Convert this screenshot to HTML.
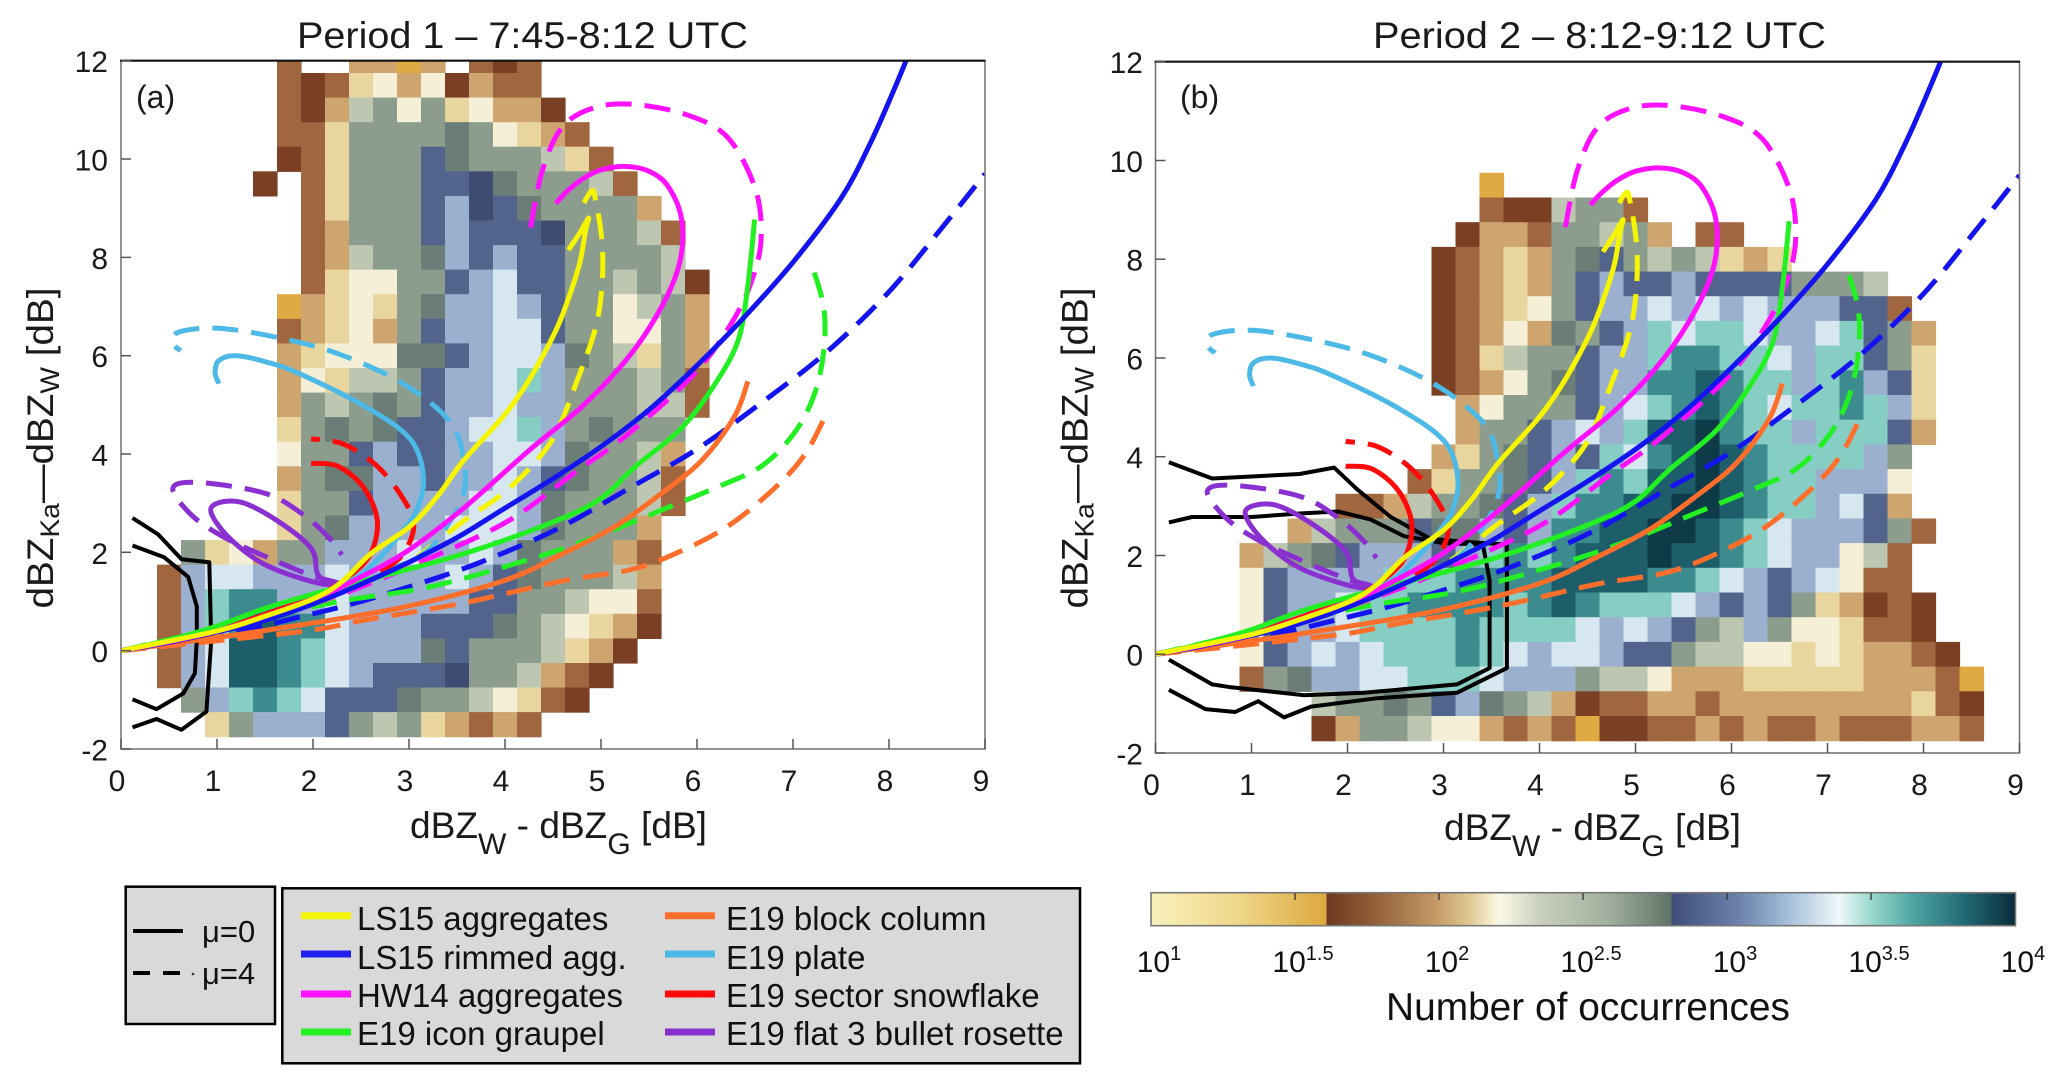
<!DOCTYPE html>
<html><head><meta charset="utf-8">
<style>
html,body{margin:0;padding:0;background:#fff;}
svg{display:block;font-family:"Liberation Sans",Arial,sans-serif;}
</style></head>
<body>
<svg id="s" width="2067" height="1083" viewBox="0 0 2067 1083" xmlns="http://www.w3.org/2000/svg">
<defs id="defs">
<linearGradient id="cbar" x1="0" y1="0" x2="1" y2="0">
<stop offset="0" stop-color="#f8f1bb"/>
<stop offset="0.1" stop-color="#efd78a"/>
<stop offset="0.2025" stop-color="#dca93f"/>
<stop offset="0.2035" stop-color="#6c3820"/>
<stop offset="0.26" stop-color="#93603a"/>
<stop offset="0.33" stop-color="#c49a66"/>
<stop offset="0.37" stop-color="#e2cb94"/>
<stop offset="0.403" stop-color="#fbf9e6"/>
<stop offset="0.45" stop-color="#c8d0bc"/>
<stop offset="0.53" stop-color="#a1af9e"/>
<stop offset="0.6015" stop-color="#5e7366"/>
<stop offset="0.6025" stop-color="#3f4d78"/>
<stop offset="0.68" stop-color="#6b82ab"/>
<stop offset="0.74" stop-color="#a9c2dc"/>
<stop offset="0.796" stop-color="#eff8fa"/>
<stop offset="0.83" stop-color="#9fdcd0"/>
<stop offset="0.88" stop-color="#4fa6a4"/>
<stop offset="0.94" stop-color="#226b76"/>
<stop offset="1" stop-color="#0b2b3a"/>
</linearGradient>
</defs>

<g id="pa"></g>
<g id="pb"></g>

<!-- axes boxes -->
<rect x="121" y="60.7" width="864" height="688.3" fill="none" stroke="#777" stroke-width="1.6"/>
<line x1="120" y1="60.7" x2="985.5" y2="60.7" stroke="#111" stroke-width="2.2"/>
<rect x="1155.5" y="61.7" width="864" height="691.3" fill="none" stroke="#777" stroke-width="1.6"/>
<line x1="1154.5" y1="61.7" x2="2020" y2="61.7" stroke="#111" stroke-width="2.2"/>
<g id="ticks" stroke="#555" stroke-width="1.5"></g>

<g fill="#1a1a1a">
<text x="297" y="48" font-size="37" textLength="451" lengthAdjust="spacingAndGlyphs">Period 1 – 7:45-8:12 UTC</text>
<text x="1373" y="48" font-size="37" textLength="453" lengthAdjust="spacingAndGlyphs">Period 2 – 8:12-9:12 UTC</text>
<text x="136" y="108" font-size="32">(a)</text>
<text x="1180" y="108" font-size="32">(b)</text>

<g font-size="30" text-anchor="end">
<text x="108" y="72.2">12</text><text x="108" y="170.5">10</text><text x="108" y="268.9">8</text><text x="108" y="367.2">6</text>
<text x="108" y="465.5">4</text><text x="108" y="563.8">2</text><text x="108" y="662.2">0</text><text x="108" y="760.5">-2</text>
<text x="1143" y="73.2">12</text><text x="1143" y="172">10</text><text x="1143" y="270.7">8</text><text x="1143" y="369.5">6</text>
<text x="1143" y="468.2">4</text><text x="1143" y="567">2</text><text x="1143" y="665.7">0</text><text x="1143" y="764.5">-2</text>
</g>
<g font-size="30" text-anchor="middle">
<text x="117" y="791">0</text><text x="213" y="791">1</text><text x="309" y="791">2</text><text x="405" y="791">3</text><text x="501" y="791">4</text>
<text x="597" y="791">5</text><text x="693" y="791">6</text><text x="789" y="791">7</text><text x="885" y="791">8</text><text x="981" y="791">9</text>
<text x="1151.5" y="795">0</text><text x="1247.5" y="795">1</text><text x="1343.5" y="795">2</text><text x="1439.5" y="795">3</text><text x="1535.5" y="795">4</text>
<text x="1631.5" y="795">5</text><text x="1727.5" y="795">6</text><text x="1823.5" y="795">7</text><text x="1919.5" y="795">8</text><text x="2015.5" y="795">9</text>
</g>

<text x="410" y="838" font-size="37" textLength="297" lengthAdjust="spacingAndGlyphs">dBZ<tspan font-size="30" dy="16">W</tspan><tspan dy="-16"> - dBZ</tspan><tspan font-size="30" dy="16">G</tspan><tspan dy="-16"> [dB]</tspan></text>
<text x="1444" y="840" font-size="37" textLength="297" lengthAdjust="spacingAndGlyphs">dBZ<tspan font-size="30" dy="16">W</tspan><tspan dy="-16"> - dBZ</tspan><tspan font-size="30" dy="16">G</tspan><tspan dy="-16"> [dB]</tspan></text>

<text transform="translate(53,448) rotate(-90)" text-anchor="middle" font-size="37" textLength="321" lengthAdjust="spacingAndGlyphs">dBZ<tspan font-size="27" dy="6">Ka</tspan><tspan dy="-6">—dBZ</tspan><tspan font-size="27" dy="6">W</tspan><tspan dy="-6"> [dB]</tspan></text>
<text transform="translate(1087.5,448) rotate(-90)" text-anchor="middle" font-size="37" textLength="321" lengthAdjust="spacingAndGlyphs">dBZ<tspan font-size="27" dy="6">Ka</tspan><tspan dy="-6">—dBZ</tspan><tspan font-size="27" dy="6">W</tspan><tspan dy="-6"> [dB]</tspan></text>
</g>

<rect x="125.7" y="886.7" width="149.3" height="137.3" fill="#d9d9d9" stroke="#000" stroke-width="2.5"/>
<line x1="133" y1="931" x2="183" y2="931" stroke="#000" stroke-width="4"/>
<line x1="133" y1="973" x2="150" y2="973" stroke="#000" stroke-width="4"/>
<line x1="163" y1="973" x2="180" y2="973" stroke="#000" stroke-width="4"/>
<circle cx="193" cy="974" r="1.3" fill="#333"/>
<g fill="#111" font-size="31">
<text x="202" y="942">μ=0</text>
<text x="202" y="984">μ=4</text>
</g>

<rect x="282.3" y="888.3" width="797.7" height="175" fill="#d9d9d9" stroke="#000" stroke-width="2.5"/>
<g stroke-width="7">
<line x1="301" y1="915.7" x2="351" y2="915.7" stroke="#f5f500"/>
<line x1="301" y1="954" x2="351" y2="954" stroke="#2020f0"/>
<line x1="301" y1="994" x2="351" y2="994" stroke="#ff10ff"/>
<line x1="301" y1="1032" x2="351" y2="1032" stroke="#22f022"/>
<line x1="665" y1="915.7" x2="715" y2="915.7" stroke="#ff6e2a"/>
<line x1="665" y1="954" x2="715" y2="954" stroke="#4cb9e6"/>
<line x1="665" y1="994" x2="715" y2="994" stroke="#ff0a0a"/>
<line x1="665" y1="1032" x2="715" y2="1032" stroke="#8a30d0"/>
</g>
<g fill="#111" font-size="33">
<text x="357" y="930">LS15 aggregates</text>
<text x="357" y="969">LS15 rimmed agg.</text>
<text x="357" y="1007">HW14 aggregates</text>
<text x="357" y="1045">E19 icon graupel</text>
<text x="726" y="930">E19 block column</text>
<text x="726" y="969">E19 plate</text>
<text x="726" y="1007">E19 sector snowflake</text>
<text x="726" y="1045">E19 flat 3 bullet rosette</text>
</g>

<rect x="1151" y="892.7" width="864.5" height="33" fill="url(#cbar)" stroke="#777" stroke-width="1.6"/>
<g stroke="#333" stroke-width="1.3">
<line x1="1295" y1="893" x2="1295" y2="900"/><line x1="1439" y1="893" x2="1439" y2="900"/>
<line x1="1583" y1="893" x2="1583" y2="900"/><line x1="1727" y1="893" x2="1727" y2="900"/>
<line x1="1871" y1="893" x2="1871" y2="900"/>
</g>
<g fill="#111" font-size="30" text-anchor="middle">
<text x="1159" y="972">10<tspan font-size="20" dy="-12">1</tspan></text>
<text x="1303" y="972">10<tspan font-size="20" dy="-12">1.5</tspan></text>
<text x="1447" y="972">10<tspan font-size="20" dy="-12">2</tspan></text>
<text x="1591" y="972">10<tspan font-size="20" dy="-12">2.5</tspan></text>
<text x="1735" y="972">10<tspan font-size="20" dy="-12">3</tspan></text>
<text x="1879" y="972">10<tspan font-size="20" dy="-12">3.5</tspan></text>
<text x="2023" y="972">10<tspan font-size="20" dy="-12">4</tspan></text>
</g>
<text x="1588" y="1020" font-size="39" fill="#111" text-anchor="middle" textLength="404" lengthAdjust="spacingAndGlyphs">Number of occurrences</text>
</svg>

<script>
(function(){
const NS="http://www.w3.org/2000/svg";
const COL={W:'#f4efd6',Y:'#e9d69e',T:'#cfa56f',B:'#9f663f',D:'#7b4024',G:'#e0aa42',S:'#bcc6b0',M:'#8c9d8e',K:'#6a7d77',N:'#52638c',Q:'#3f4c72',L:'#9bb0cf',P:'#d6e7ef',C:'#86cec3',E:'#3c8b8e',F:'#1e5d6a',X:'#0f3b49'};
function mk(tag,a,p){const e=document.createElementNS(NS,tag);for(const k in a)e.setAttribute(k,a[k]);p.appendChild(e);return e;}
function f(v){return v.toFixed(1);}
function crPath(pts,X,Y){
  const P=pts.map(p=>[X(p[0]),Y(p[1])]);
  let d='M'+f(P[0][0])+','+f(P[0][1]);
  for(let i=0;i<P.length-1;i++){
    const p0=P[i-1]||P[i],p1=P[i],p2=P[i+1],p3=P[i+2]||P[i+1];
    const c1=[p1[0]+(p2[0]-p0[0])/6,p1[1]+(p2[1]-p0[1])/6];
    const c2=[p2[0]-(p3[0]-p1[0])/6,p2[1]-(p3[1]-p1[1])/6];
    d+='C'+f(c1[0])+','+f(c1[1])+' '+f(c2[0])+','+f(c2[1])+' '+f(p2[0])+','+f(p2[1]);
  }
  return d;
}
function polyPath(pts,X,Y){return 'M'+pts.map(p=>f(X(p[0]))+','+f(Y(p[1]))).join('L');}

const A=[
[12,5,"B..TTGT.BDB"],
[11.5,5,"BDBYWTWDTBB"],
[11,5,"BDTSMWMYWTTD"],
[10.5,5,"BBYMMMMKMWYTB"],
[10,5,"DBYMMMNKMMMSYB"],
[9.5,4,"D.BYMMMNNQKMMMSB"],
[9,6,"BYMMMNLQNKMMMMT"],
[8.5,6,"BTMMMNLNNNQMMMSB"],
[8,6,"BTSMMKLNLNNMMMMS"],
[7.5,6,"BYWWMMNLPNNMMSMSD"],
[7,5,"GTYWYMKLLPLNMMWSMT"],
[6.5,5,"BTYWTMNLLPPNMMWWMT"],
[6,5,"TYWWWKKNLPPLKMSYMT"],
[5.5,5,"TWYSSMNLLPCLMMMSMB"],
[5,5,"TMSMKMNLLPLLMMMSSB"],
[4.5,5,"YMKMKNNLPPCLMKMMM"],
[4,5,"WMMNLNNLLPPLKMMST"],
[3.5,5,"TMKKLLNLLPLNKMMSB"],
[3,5,"YMMNLLLLPPLKMMMSB"],
[2.5,5,"YMKLLLLPPPLKMMMT"],
[2,1,"MYWTMMLLLPLLPLKMMMTB"],
[1.5,0,"BLPPLLLPLLLLPLNKMMMST"],
[1,0,"BLCEELLPLLLLLNNMMSWWB"],
[0.5,0,"BLCEFEEPLLLNNNKMSWYTD"],
[0,0,"BLPFFECPLLLKNMMMSYTD"],
[-0.5,0,"BLPFFECPLNNNQMMSTBD"],
[-1,1,"MLCECPNNNKMMSWYBD"],
[-1.5,2,"YMLLLNMSMYTBTB"]
];
const B=[
[9.5,12,"G"],
[9,12,"BDDSMMB"],
[8.5,11,"DTTBMMSMT.BB"],
[8,10,"DBTYTMKNMSMSYTY"],
[7.5,10,"DBTYTMNLNNLNNNNMMMS"],
[7,10,"DBTYWMNLLPLPLPLLLNNB"],
[6.5,10,"DBTWTKMNLCPCCPLLPCNMT"],
[6,10,"DBYSMMNLLCEECCPLCCNMY"],
[5.5,10,"DBTWMKNLLEEFECCLCELNY"],
[5,11,"TWMMMNLPCEFECPCCECLY"],
[4.5,11,"TMMNLPLCFFXECCLCCCNT"],
[4,10,"TYMKNLNCPEFXFECCCCLM"],
[3.5,9,"BYMMKNLCECFFXFECCLLLW"],
[3,6,"BBTSMMKNLCEEFFXXFECCLPNT"],
[2.5,4,"TSMMMNKKLNLEEFFXXFECPLLLNMB"],
[2,2,"TSMKNLLLNLCECEFFFXFFECPLLWSB"],
[1.5,2,"WNLLLLCCCEEEEFFFFEECPLNLPWBB"],
[1,2,"WNLLPCCEEEECEFECCCPLNLNMYTDBD"],
[0.5,2,"WNLLPCCCCECCCCPLPLNMSLMWWYBBD"],
[0,2,"WNLPLPCCCECPLPPLNNMSSWWYWYTTBD"],
[-0.5,2,"BMKLLPPCCCPLLLMSSWTTTYYYYYTTTBG"],
[-1,5,"SMMKMNLKMSTDBBTTBTTTTTTTTYBD"],
[-1.5,5,"DTMMSWWTBTBGDDBBTBTBBTBBBTTB"]
];

const cA=[
[[0.12,2.7],[0.39,2.36],[0.63,1.86],[0.92,1.8],[0.94,0.2],[0.89,-1.24],[0.63,-1.61],[0.37,-1.39],[0.12,-1.56]],
[[0.12,2.14],[0.45,1.9],[0.7,1.5],[0.79,0.9],[0.79,0.22],[0.77,-0.46],[0.65,-0.87],[0.37,-1.19],[0.12,-0.99]]
];
const cB=[
[[0.14,3.89],[0.59,3.56],[1.0,3.6],[1.5,3.65],[1.86,3.78],[2.1,3.34],[2.45,2.78],[2.86,2.34],[3.21,2.28],[3.66,2.22],[3.66,-0.28],[3.14,-0.78],[2.31,-0.89],[1.62,-1.06],[1.34,-1.28],[1.07,-0.95],[0.83,-1.17],[0.52,-1.11],[0.14,-0.72]],
[[0.14,2.67],[0.38,2.78],[1.0,2.78],[1.5,2.85],[1.9,2.89],[2.24,2.73],[2.59,2.39],[3.0,2.25],[3.41,2.22],[3.48,1.5],[3.48,-0.28],[3.14,-0.61],[2.17,-0.78],[1.55,-0.83],[0.79,-0.67],[0.59,-0.61],[0.14,-0.11]]
];

const YEL='#f5f500',BLU='#1414f0',MAG='#ff10ff',GRN='#22f022',ORA='#ff6e2a',CYA='#4cb9e6',RED='#ff0a0a',PUR='#8a30d0';
const curves=[
[[[0,0],[1,0.3],[2,0.75],[2.5,1.0],[3,1.3],[3.5,1.62],[4,2.0],[4.6,2.53],[5.3,3.31],[6,4.1],[6.67,5.04],[7.36,6.09],[8,7.3],[8.53,8.55],[9,9.7]],BLU,1],
[[[0,0],[1,0.2],[2,0.42],[2.53,0.62],[3.57,0.97],[4.6,1.42],[5.29,1.64],[5.77,1.97],[6.32,2.53],[6.81,3.31],[7.12,3.98],[7.32,4.7]],ORA,1],
[[[0,0],[1,0.45],[2.19,0.97],[3.22,1.3],[4.26,1.86],[4.94,2.31],[5.63,2.86],[6.19,3.31],[6.67,3.75],[7.01,4.42],[7.22,5.2],[7.32,6.09],[7.32,6.99],[7.19,7.88]],GRN,1],
[[[0,0],[1,0.37],[2,0.95],[2.5,1.3],[3,1.7],[4,2.6],[4.74,3.64],[5.29,4.42],[5.98,5.65],[6.39,6.76],[6.6,7.7],[6.67,8.5],[6.6,9.44],[6.32,10.44],[5.91,10.89],[5.36,11.11],[4.94,11.05],[4.6,10.66],[4.39,9.77],[4.26,8.55]],MAG,1],
[[[0,0],[1,0.37],[2,0.95],[2.5,1.35],[3,1.8],[3.57,2.64],[3.98,3.2],[4.3,3.8],[4.53,4.42],[4.74,5.43],[4.94,6.54],[5.01,7.43],[5.01,8.32],[4.94,9.21],[4.9,9.35],[4.82,9.1]],YEL,1],
[[[0,0],[1,0.4],[2,1.05],[2.6,1.5],[3.15,1.97],[3.43,2.64],[3.57,3.2],[3.57,3.87],[3.43,4.65],[2.94,5.43],[2.26,6.04],[1.63,6.37],[1.01,6.56],[0.6,6.48],[0.54,6.26],[0.62,6.1]],CYA,1],
[[[0,0],[1,0.4],[2,1.0],[2.5,1.35],[2.74,1.64],[2.94,1.97],[3.05,2.53],[2.94,3.09],[2.67,3.75],[2.32,4.2],[1.98,4.31]],RED,1],
[[[0,0],[1,0.42],[1.8,0.95],[2.3,1.3],[1.98,1.53],[1.57,1.86],[1.08,2.3],[0.74,2.75],[0.54,3.3],[0.81,3.42],[1.5,3.2],[1.91,2.75],[2.19,2.25],[2.3,1.95]],PUR,1],
[[[0,0],[1,0.42],[1.8,0.95],[2.2,1.25],[2.05,1.55],[1.98,2.08],[1.63,2.64],[1.25,3.02],[0.98,2.98],[0.95,2.75],[1.15,2.25],[1.5,1.75],[1.98,1.41],[2.3,1.3]],PUR,0],
[[[0,0],[1,0.42],[1.8,0.95],[2.12,1.19],[2.39,1.53],[2.6,1.97],[2.67,2.64],[2.53,3.31],[2.26,3.75],[1.98,3.81]],RED,0],
[[[0,0],[1,0.4],[2,1.05],[2.46,1.5],[2.7,1.9],[2.88,2.31],[3.08,2.86],[3.15,3.53],[3.01,4.31],[2.53,4.98],[1.84,5.65],[1.5,5.88],[1.2,6.0],[1.02,5.9],[0.98,5.65],[1.02,5.43]],CYA,0],
[[[0,0],[1,0.27],[1.5,0.41],[2.88,0.86],[3.98,1.42],[4.6,1.97],[5.15,2.53],[5.63,3.2],[6.05,3.87],[6.39,4.76],[6.53,5.48]],ORA,0],
[[[0,0],[0.5,0.22],[1,0.5],[1.5,0.86],[2,1.15],[2.53,1.42],[3.57,1.97],[4.53,2.64],[5.0,3.1],[5.36,3.75],[5.84,4.53],[6.19,5.43],[6.43,6.32],[6.53,7.43],[6.6,8.77]],GRN,0],
[[[0,0],[0.5,0.17],[1,0.38],[1.5,0.62],[2,0.95],[2.5,1.35],[3,1.8],[3.5,2.3],[4,2.9],[4.5,3.5],[5,4.15],[5.5,4.9],[6,5.8],[6.5,6.8],[7,7.9],[7.5,9.2],[7.8,10.3],[8.05,11.4],[8.22,12.2]],BLU,0],
[[[0,0],[1,0.4],[2,1.05],[2.5,1.5],[3,2.05],[3.57,2.9],[4.26,4.09],[4.81,4.98],[5.29,5.98],[5.63,6.99],[5.82,7.9],[5.84,8.77],[5.7,9.44],[5.5,9.75],[5.25,9.85],[5.0,9.78],[4.81,9.6],[4.65,9.35],[4.53,9.1]],MAG,0],
[[[0,0],[1,0.4],[1.5,0.7],[2,1.05],[2.3,1.4],[2.6,1.97],[3.01,2.53],[3.3,3.15],[3.57,3.87],[3.98,4.76],[4.2,5.35],[4.39,5.98],[4.55,6.6],[4.67,7.21],[4.78,7.9],[4.84,8.55],[4.87,8.8],[4.78,8.5],[4.66,8.15]],YEL,0]
];

const panels=[
 {id:'pa',ox:121,top:60.7,bot:749,data:A,cont:cA},
 {id:'pb',ox:1155.5,top:61.7,bot:753,data:B,cont:cB}
];
const defs=document.getElementById('defs');
const tk=document.getElementById('ticks');
panels.forEach((P,pi)=>{
  const X=v=>P.ox+96*v;
  const Y=v=>P.bot-(v+2)*(P.bot-P.top)/14;
  const g=document.getElementById(P.id);
  P.data.forEach(row=>{
    const r=row[0],s=row[1],str=row[2];
    for(let i=0;i<str.length;i++){
      const ch=str[i]; if(ch==='.') continue;
      const c=0.5+0.25*(s+i);
      const x0=X(c-0.125),x1=X(c+0.125);
      let y0=Y(r+0.25),y1=Y(r-0.25);
      if(y0<P.top) y0=P.top;
      mk('rect',{x:f(x0),y:f(y0),width:f(x1-x0+0.6),height:f(y1-y0+0.6),fill:COL[ch]},g);
    }
  });
  const cp=mk('clipPath',{id:'clip'+pi},defs);
  mk('rect',{x:P.ox,y:P.top,width:864,height:P.bot-P.top},cp);
  const cg=mk('g',{'clip-path':'url(#clip'+pi+')',fill:'none','stroke-linejoin':'round'},g);
  P.cont.forEach(c=>mk('path',{d:polyPath(c,X,Y),stroke:'#000','stroke-width':4},cg));
  curves.forEach(cv=>{
    const a={d:crPath(cv[0],X,Y),stroke:cv[1],'stroke-width':5};
    if(cv[2]) a['stroke-dasharray']='26 13';
    mk('path',a,cg);
  });
  for(let v=-2;v<=12;v+=2){const y=Y(v);mk('line',{x1:P.ox,y1:f(y),x2:P.ox+10,y2:f(y)},tk);}
  for(let v=0;v<=9;v++){const x=X(v);mk('line',{x1:f(x),y1:P.bot,x2:f(x),y2:P.bot-10},tk);}
});
})();
</script>
</body></html>
